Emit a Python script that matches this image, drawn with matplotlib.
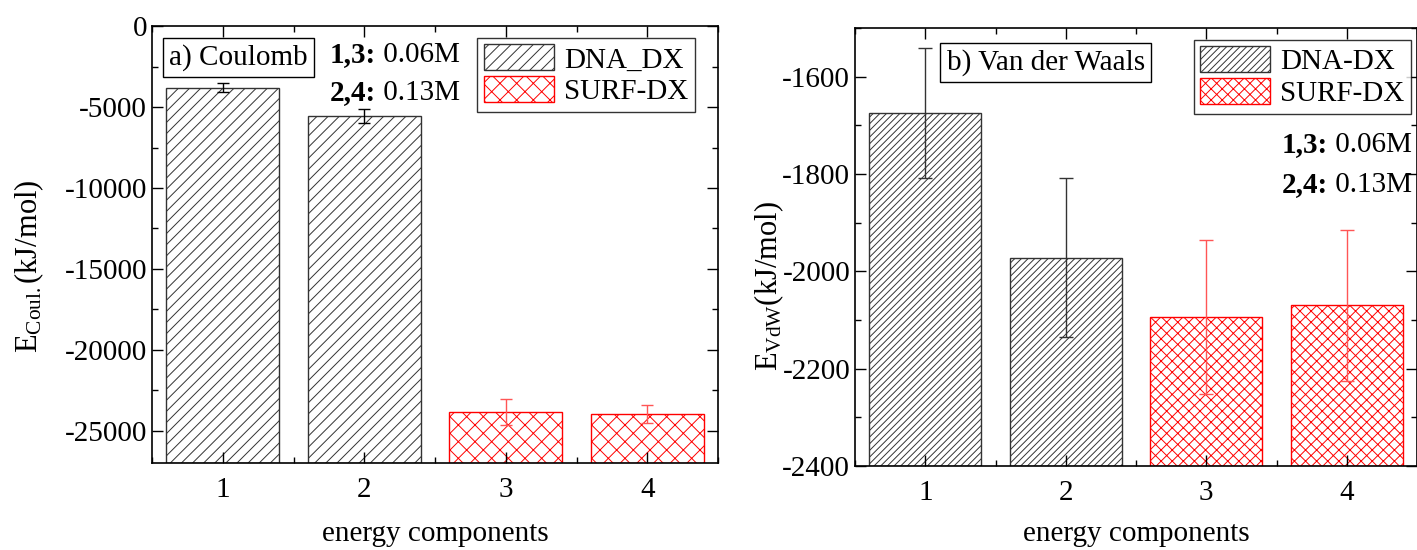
import matplotlib
matplotlib.use("Agg")
from matplotlib import pyplot as plt
from matplotlib.patches import Patch
from matplotlib.ticker import MultipleLocator

# bar values (kJ/mol)
components = [1, 2, 3, 4]
coul_dna = [-3800, -5560]
coul_dna_err = [300, 450]
coul_surf = [-23870, -23970]
coul_surf_err = [800, 560]

vdw_dna = [-1675, -1972]
vdw_dna_err = [133, 163]
vdw_surf = [-2094, -2070]
vdw_surf_err = [158, 155]

coul_floor = -27000
vdw_floor = -2400

plt.rcParams['font.family'] = ['Liberation Serif', 'DejaVu Serif']
plt.rcParams['mathtext.fontset'] = 'custom'
plt.rcParams['mathtext.rm'] = 'Liberation Serif'
plt.rcParams['mathtext.it'] = 'Liberation Serif:italic'
plt.rcParams['mathtext.bf'] = 'Liberation Serif:bold'
plt.rcParams['axes.unicode_minus'] = False
plt.rcParams['hatch.linewidth'] = 0.7

fs_tick = 21
fs = 21
fig = plt.figure(figsize=(14.17, 5.5), dpi=100)
ax1 = fig.add_axes([0.1073, 0.158, 0.3994, 0.7945])
ax2 = fig.add_axes([0.6034, 0.153, 0.3966, 0.796])


def style_axis(ax, pad):
    ax.set_xlim(0.5, 4.5)
    ax.set_xticks(components)
    ax.xaxis.set_minor_locator(MultipleLocator(0.5))
    ax.tick_params(which='both', direction='in', top=True, right=True, labelsize=fs_tick, width=1)
    ax.tick_params(which='major', length=8)
    ax.tick_params(which='minor', length=4)
    ax.tick_params(axis='x', pad=10)
    for s in ax.spines.values():
        s.set_linewidth(1.2)
    ax.set_xlabel("energy components", fontsize=fs_tick, labelpad=pad)


def conc_text(ax, x, y, bold, rest):
    t = ax.text(x, y, bold, transform=ax.transAxes, fontsize=fs, fontweight='bold', va='baseline')
    ax.annotate(rest, xy=(1, 0), xycoords=t, fontsize=fs, va='bottom')


def draw_bars(ax, xs, vals, errs, floor, ec, hatch, err_col, cap):
    heights = [v - floor for v in vals]
    ax.bar(xs, heights, bottom=floor, width=0.8, color='white', edgecolor=ec, hatch=hatch, linewidth=1)
    ax.errorbar(xs, vals, yerr=errs, fmt='none', ecolor=err_col, elinewidth=1, capsize=cap, capthick=1)


def add_legend(ax, dna_label, dna_hatch, surf_hatch, anchor):
    h = [Patch(facecolor='white', edgecolor='#333333', hatch=dna_hatch, label=dna_label),
         Patch(facecolor='white', edgecolor='red', hatch=surf_hatch, label='SURF-DX')]
    leg = ax.legend(handles=h, loc='upper right', bbox_to_anchor=anchor, fontsize=fs, frameon=True,
                    fancybox=False, edgecolor='black', handlelength=2.4, handleheight=1.0,
                    labelspacing=0.1, borderpad=0.22, handletextpad=0.35, borderaxespad=0.0)
    leg.get_frame().set_linewidth(1)


# a) Coulomb
ax = ax1
draw_bars(ax, components[:2], coul_dna, coul_dna_err, coul_floor, '#333333', '///', 'black', 4)
draw_bars(ax, components[2:], coul_surf, coul_surf_err, coul_floor, 'red', 'xx', '#ff5555', 4)
ax.set_ylim(coul_floor, 0)
ax.yaxis.set_major_locator(MultipleLocator(5000))
ax.yaxis.set_minor_locator(MultipleLocator(2500))
style_axis(ax, 13)
ax.set_ylabel(r'E$_{\mathrm{Coul.}}$(kJ/mol)', fontsize=22)
ax.yaxis.set_label_coords(-0.188, 0.45)
ax.text(0.03, 0.912, "a) Coulomb", transform=ax.transAxes, fontsize=fs, va='baseline',
        bbox=dict(boxstyle='square,pad=0.22', fc='white', ec='black', lw=1))
conc_text(ax, 0.314, 0.918, "1,3:", " 0.06M")
conc_text(ax, 0.314, 0.83, "2,4:", " 0.13M")
add_legend(ax, 'DNA_DX', '///', 'xx', (0.959, 0.973))

# b) Van der Waals
ax = ax2
draw_bars(ax, components[:2], vdw_dna, vdw_dna_err, vdw_floor, '#333333', '/////', '#333333', 5)
draw_bars(ax, components[2:], vdw_surf, vdw_surf_err, vdw_floor, 'red', 'xxx', '#ff5555', 5)
ax.set_ylim(vdw_floor, -1500)
ax.yaxis.set_major_locator(MultipleLocator(200))
ax.yaxis.set_minor_locator(MultipleLocator(100))
style_axis(ax, 11)
ax.set_ylabel(r'E$_{\mathrm{VdW}}$(kJ/mol)', fontsize=22)
ax.yaxis.set_label_coords(-0.122, 0.41)
ax.text(0.163, 0.905, "b) Van der Waals", transform=ax.transAxes, fontsize=fs, va='baseline',
        bbox=dict(boxstyle='square,pad=0.22', fc='white', ec='black', lw=1))
conc_text(ax, 0.76, 0.717, "1,3:", " 0.06M")
conc_text(ax, 0.76, 0.626, "2,4:", " 0.13M")
add_legend(ax, 'DNA-DX', '/////', 'xxx', (0.989, 0.973))

plt.savefig("out.png", dpi=100)
